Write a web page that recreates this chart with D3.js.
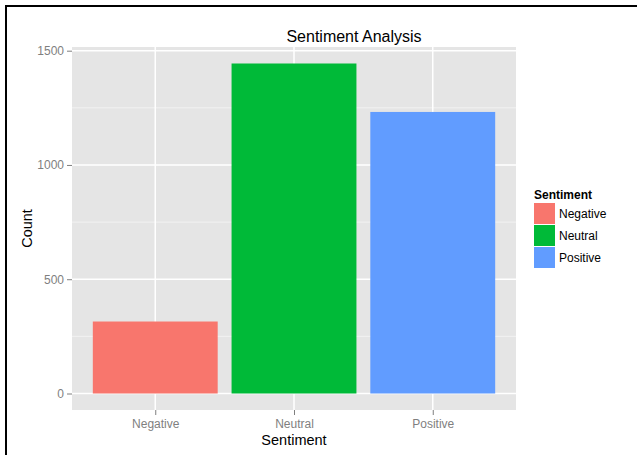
<!DOCTYPE html>
<html>
<head>
<meta charset="utf-8">
<script src="https://cdn.jsdelivr.net/npm/d3@7"></script>
<style>
  body { margin: 0; background: #fff; }
  text { font-family: "Liberation Sans", Arial, sans-serif; }
</style>
</head>
<body>
<div id="chart"></div>
<script>
var categories = ["Negative", "Neutral", "Positive"];
var counts = [315, 1444, 1232];
var colors = ["#F8766D", "#00BA38", "#619CFF"];
var yTicks = [0, 500, 1000, 1500];
var yMinor = [250, 750, 1250];

var W = 637, H = 455;
var panel = {left: 72, top: 47, right: 516, bottom: 410};

var svg = d3.select("#chart").append("svg")
    .attr("width", W)
    .attr("height", H);

svg.append("rect").attr("width", W).attr("height", H).attr("fill", "#fff");

// frame lines (top and left only)
svg.append("line").attr("x1", 5).attr("x2", W).attr("y1", 6).attr("y2", 6)
    .attr("stroke", "#000").attr("stroke-width", 2);
svg.append("line").attr("x1", 6).attr("x2", 6).attr("y1", 5).attr("y2", H)
    .attr("stroke", "#000").attr("stroke-width", 2);

var maxV = d3.max(counts);
var x = d3.scalePoint()
    .domain(categories)
    .range([panel.left, panel.right])
    .padding(0.6);
var y = d3.scaleLinear()
    .domain([-0.05 * maxV, maxV * 1.05])
    .range([panel.bottom, panel.top]);
var bw = x.step() * 0.9;

// panel background
svg.append("rect")
    .attr("x", panel.left).attr("y", panel.top)
    .attr("width", panel.right - panel.left)
    .attr("height", panel.bottom - panel.top)
    .attr("fill", "#E5E5E5");

// minor grid
svg.selectAll(".minor").data(yMinor).enter().append("line")
    .attr("x1", panel.left).attr("x2", panel.right)
    .attr("y1", function(d) { return y(d); }).attr("y2", function(d) { return y(d); })
    .attr("stroke", "#F2F2F2").attr("stroke-width", 1);

// major grid
svg.selectAll(".hmajor").data(yTicks).enter().append("line")
    .attr("x1", panel.left).attr("x2", panel.right)
    .attr("y1", function(d) { return y(d); }).attr("y2", function(d) { return y(d); })
    .attr("stroke", "#fff").attr("stroke-width", 1.5);
svg.selectAll(".vmajor").data(categories).enter().append("line")
    .attr("y1", panel.top).attr("y2", panel.bottom)
    .attr("x1", function(d) { return x(d); }).attr("x2", function(d) { return x(d); })
    .attr("stroke", "#fff").attr("stroke-width", 1.5);

// bars
svg.selectAll(".bar").data(categories).enter().append("rect")
    .attr("x", function(d) { return x(d) - bw / 2; })
    .attr("width", bw)
    .attr("y", function(d, i) { return y(counts[i]); })
    .attr("height", function(d, i) { return y(0) - y(counts[i]); })
    .attr("fill", function(d, i) { return colors[i]; });

// axes
var yAxis = svg.append("g")
    .attr("transform", "translate(" + panel.left + ",0)")
    .call(d3.axisLeft(y).tickValues(yTicks).tickFormat(d3.format("d")).tickSize(5).tickPadding(3));
var xAxis = svg.append("g")
    .attr("transform", "translate(0," + panel.bottom + ")")
    .call(d3.axisBottom(x).tickSize(5).tickPadding(4));
[xAxis, yAxis].forEach(function(g) {
  g.select(".domain").remove();
  g.selectAll("line").attr("stroke", "#7F7F7F");
  g.selectAll("text").attr("fill", "#7F7F7F").style("font-size", "12px")
    .style("font-family", "Liberation Sans, Arial, sans-serif");
});

// titles
svg.append("text")
    .attr("x", 354).attr("y", 42)
    .attr("text-anchor", "middle")
    .style("font-size", "16px")
    .text("Sentiment Analysis");
svg.append("text")
    .attr("x", (panel.left + panel.right) / 2).attr("y", 445)
    .attr("text-anchor", "middle")
    .style("font-size", "14.5px")
    .text("Sentiment");
svg.append("text")
    .attr("transform", "translate(32," + ((panel.top + panel.bottom) / 2) + ") rotate(-90)")
    .attr("text-anchor", "middle")
    .style("font-size", "14.5px")
    .text("Count");

// legend
var lg = svg.append("g").attr("transform", "translate(534,203)");
lg.append("text")
    .attr("x", 0).attr("y", -4)
    .style("font-size", "12px")
    .style("font-weight", "bold")
    .text("Sentiment");
var items = lg.selectAll(".key").data(categories).enter().append("g")
    .attr("transform", function(d, i) { return "translate(0," + i * 22 + ")"; });
items.append("rect")
    .attr("width", 21).attr("height", 21)
    .attr("fill", function(d, i) { return colors[i]; });
items.append("text")
    .attr("x", 25).attr("y", 15)
    .style("font-size", "12px")
    .text(function(d) { return d; });
</script>
</body>
</html>
